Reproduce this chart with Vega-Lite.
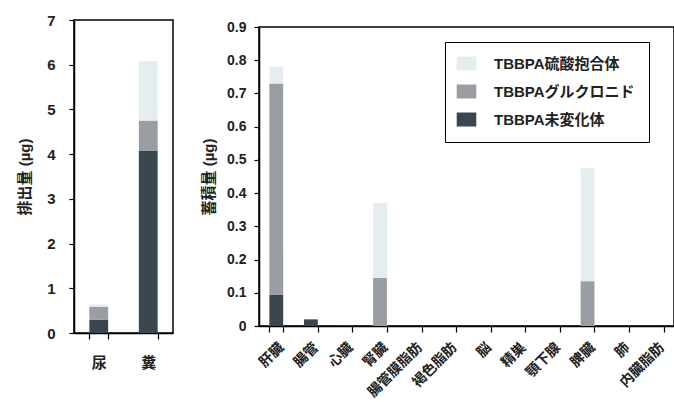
{
  "$schema": "https://vega.github.io/schema/vega-lite/v6.json",
  "padding": {"left": 16, "top": 12, "right": 0, "bottom": 0},
  "background": "#ffffff",
  "bounds": "flush",
  "center": true,
  "config": {
    "font": "Liberation Sans, Noto Sans CJK JP",
    "view": {"stroke": "#000", "strokeWidth": 1.5},
    "axis": {
      "labelFont": "Liberation Sans, Noto Sans CJK JP",
      "titleFont": "Liberation Sans, Noto Sans CJK JP",
      "labelFontWeight": "bold",
      "titleFontWeight": "bold",
      "labelColor": "#222",
      "titleColor": "#222",
      "domainColor": "#000",
      "tickColor": "#000",
      "domainWidth": 1.5,
      "tickWidth": 1.2,
      "grid": false
    }
  },
  "resolve": {"scale": {"color": "independent"}, "legend": {"color": "independent"}},
  "datasets": {
    "excretion": [
      {"部位": "尿", "種類": "TBBPA未変化体", "順": 1, "値": 0.3},
      {"部位": "尿", "種類": "TBBPAグルクロニド", "順": 2, "値": 0.29},
      {"部位": "尿", "種類": "TBBPA硫酸抱合体", "順": 3, "値": 0.05},
      {"部位": "糞", "種類": "TBBPA未変化体", "順": 1, "値": 4.08},
      {"部位": "糞", "種類": "TBBPAグルクロニド", "順": 2, "値": 0.67},
      {"部位": "糞", "種類": "TBBPA硫酸抱合体", "順": 3, "値": 1.33}
    ],
    "accumulation": [
      {"部位": "肝臓", "種類": "TBBPA未変化体", "順": 1, "値": 0.095},
      {"部位": "肝臓", "種類": "TBBPAグルクロニド", "順": 2, "値": 0.635},
      {"部位": "肝臓", "種類": "TBBPA硫酸抱合体", "順": 3, "値": 0.05},
      {"部位": "腸管", "種類": "TBBPA未変化体", "順": 1, "値": 0.02},
      {"部位": "腸管", "種類": "TBBPAグルクロニド", "順": 2, "値": 0},
      {"部位": "腸管", "種類": "TBBPA硫酸抱合体", "順": 3, "値": 0},
      {"部位": "心臓", "種類": "TBBPA未変化体", "順": 1, "値": 0.002},
      {"部位": "心臓", "種類": "TBBPAグルクロニド", "順": 2, "値": 0},
      {"部位": "心臓", "種類": "TBBPA硫酸抱合体", "順": 3, "値": 0},
      {"部位": "腎臓", "種類": "TBBPA未変化体", "順": 1, "値": 0},
      {"部位": "腎臓", "種類": "TBBPAグルクロニド", "順": 2, "値": 0.145},
      {"部位": "腎臓", "種類": "TBBPA硫酸抱合体", "順": 3, "値": 0.225},
      {"部位": "腸管膜脂肪", "種類": "TBBPA未変化体", "順": 1, "値": 0},
      {"部位": "褐色脂肪", "種類": "TBBPA未変化体", "順": 1, "値": 0},
      {"部位": "脳", "種類": "TBBPA未変化体", "順": 1, "値": 0},
      {"部位": "精巣", "種類": "TBBPA未変化体", "順": 1, "値": 0},
      {"部位": "顎下腺", "種類": "TBBPA未変化体", "順": 1, "値": 0},
      {"部位": "脾臓", "種類": "TBBPA未変化体", "順": 1, "値": 0},
      {"部位": "脾臓", "種類": "TBBPAグルクロニド", "順": 2, "値": 0.135},
      {"部位": "脾臓", "種類": "TBBPA硫酸抱合体", "順": 3, "値": 0.34},
      {"部位": "肺", "種類": "TBBPA未変化体", "順": 1, "値": 0},
      {"部位": "内臓脂肪", "種類": "TBBPA未変化体", "順": 1, "値": 0}
    ]
  },
  "hconcat": [
    {
      "width": 99,
      "height": 313,
      "data": {"name": "excretion"},
      "mark": {"type": "bar"},
      "encoding": {
        "x": {
          "field": "部位", "type": "nominal", "sort": ["尿", "糞"],
          "scale": {"paddingInner": 0.62, "paddingOuter": 0.31},
          "axis": {"title": null, "labelAngle": 0, "labelFontSize": 15, "labelPadding": 16, "tickBand": "extent", "tickSize": 6}
        },
        "y": {
          "field": "値", "type": "quantitative", "stack": "zero",
          "scale": {"domain": [0, 7], "nice": false},
          "axis": {"title": "排出量 (µg)", "titleFontSize": 15, "labelFontSize": 15, "tickCount": 7, "tickSize": 5, "labelPadding": 14, "titlePadding": 14}
        },
        "color": {
          "field": "種類", "type": "nominal",
          "scale": {"domain": ["TBBPA硫酸抱合体", "TBBPAグルクロニド", "TBBPA未変化体"], "range": ["#e4eeee", "#9a9ea4", "#3a4650"]},
          "legend": null
        },
        "order": {"field": "順", "type": "quantitative", "sort": "ascending"}
      }
    },
    {
      "width": 415,
      "height": 299,
      "data": {"name": "accumulation"},
      "mark": {"type": "bar"},
      "encoding": {
        "x": {
          "field": "部位", "type": "nominal",
          "sort": ["肝臓", "腸管", "心臓", "腎臓", "腸管膜脂肪", "褐色脂肪", "脳", "精巣", "顎下腺", "脾臓", "肺", "内臓脂肪"],
          "scale": {"paddingInner": 0.6, "paddingOuter": 0.3},
          "axis": {"title": null, "labelAngle": -45, "labelFontSize": 14, "labelPadding": 8, "tickBand": "extent", "tickSize": 6}
        },
        "y": {
          "field": "値", "type": "quantitative", "stack": "zero",
          "scale": {"domain": [0, 0.9], "nice": false},
          "axis": {"title": "蓄積量 (µg)", "titleFontSize": 15, "labelFontSize": 14, "values": [0, 0.1, 0.2, 0.3, 0.4, 0.5, 0.6, 0.7, 0.8, 0.9], "labelExpr": "datum.value === 0 ? '0' : format(datum.value, '.1f')", "tickSize": 5, "labelPadding": 8, "titlePadding": 10}
        },
        "color": {
          "field": "種類", "type": "nominal",
          "scale": {"domain": ["TBBPA硫酸抱合体", "TBBPAグルクロニド", "TBBPA未変化体"], "range": ["#e4eeee", "#9a9ea4", "#3a4650"]},
          "legend": {
            "title": null,
            "orient": "none",
            "legendX": 186,
            "legendY": 15,
            "strokeColor": "#000",
            "padding": 14,
            "symbolType": "M-1.4,-1L1.4,-1L1.4,1L-1.4,1Z",
            "symbolSize": 196,
            "symbolStrokeWidth": 0,
            "labelFontSize": 15,
            "labelFontWeight": "bold",
            "labelColor": "#222",
            "labelOffset": 20,
            "rowPadding": 12,
            "labelFont": "Liberation Sans, Noto Sans CJK JP",
            "labelLimit": 300
          }
        },
        "order": {"field": "順", "type": "quantitative", "sort": "ascending"}
      }
    }
  ],
  "spacing": 86
}
